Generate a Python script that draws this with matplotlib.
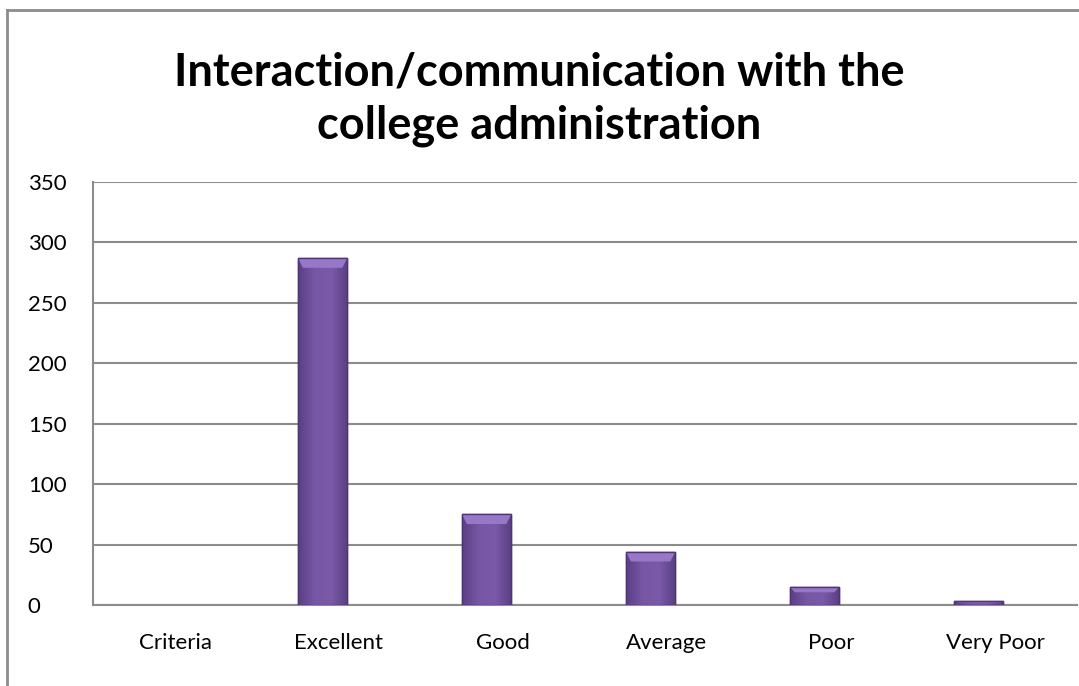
import numpy as np
import matplotlib.pyplot as plt
from matplotlib.patches import Rectangle, Polygon
from matplotlib.lines import Line2D
from matplotlib.colors import LinearSegmentedColormap

categories = ['Criteria', 'Excellent', 'Good', 'Average', 'Poor', 'Very Poor']
responses = [0, 287, 75, 44, 15, 3]
y_ticks = [0, 50, 100, 150, 200, 250, 300, 350]

plt.rcParams['font.family'] = ['Lato', 'DejaVu Sans']

fig = plt.figure(figsize=(10.79, 6.86), dpi=100)
ax = fig.add_axes([93 / 1079, 1 - 605 / 686, 984 / 1079, 423 / 686])

x = np.arange(len(categories))
bars = ax.bar(x - 0.1, responses, width=0.3, color='#6f509b',
              edgecolor='#4e3675', linewidth=1.0, zorder=3)

# horizontal shading and a lighter bevel on top of each bar
shade = LinearSegmentedColormap.from_list('shade', ['#5a3f84', '#7757a5', '#7a5aa8', '#5a3f84'])
grad = np.linspace(0, 1, 64).reshape(1, -1)
for b in bars:
    h = b.get_height()
    if h <= 0:
        b.set_linewidth(0)
        continue
    x0, w = b.get_x(), b.get_width()
    im = ax.imshow(grad, cmap=shade, extent=(x0, x0 + w, 0, h), aspect='auto',
                   zorder=3.5, interpolation='bicubic')
    im.set_clip_path(b)
    bev = min(h * 0.3, 8)
    ax.add_patch(Polygon([(x0, h), (x0 + w, h), (x0 + w - 0.03, h - bev), (x0 + 0.03, h - bev)],
                         closed=True, color='#9878c6', zorder=4, linewidth=0))
    ax.add_patch(Rectangle((x0, 0), w, h, fill=False, edgecolor='#4e3675',
                           linewidth=1.0, zorder=5))

ax.set_xlim(-0.5, len(categories) - 0.5)
ax.set_ylim(0, 350)
ax.set_yticks(y_ticks)
ax.set_xticks(x)
ax.set_xticklabels(categories)
ax.tick_params(axis='both', length=0, labelsize=16, colors='black')
ax.tick_params(axis='x', pad=20)
ax.yaxis.grid(True, color='#8c8c8c', linewidth=1.5, zorder=0)
for s in ['top', 'right']:
    ax.spines[s].set_visible(False)
ax.spines['left'].set_color('#8c8c8c')
ax.spines['left'].set_linewidth(1.5)
ax.spines['bottom'].set_color('#8c8c8c')
ax.spines['bottom'].set_linewidth(1.5)
for lbl in ax.get_yticklabels():
    lbl.set_horizontalalignment('left')
ax.tick_params(axis='y', pad=47)

fig.text(0.5, 1 - 99 / 686, 'Interaction/communication with the\ncollege administration',
         ha='center', va='center', fontsize=32.5, fontweight='bold', linespacing=1.32)

# outer chart frame (left and top edges visible)
fig.add_artist(Line2D([7 / 1079, 7 / 1079], [0, 1 - 10 / 686], color='#8c8c8c', linewidth=2,
                      transform=fig.transFigure))
fig.add_artist(Line2D([7 / 1079, 1], [1 - 10 / 686, 1 - 10 / 686], color='#8c8c8c', linewidth=2,
                      transform=fig.transFigure))

plt.savefig('out.png', dpi=100)
